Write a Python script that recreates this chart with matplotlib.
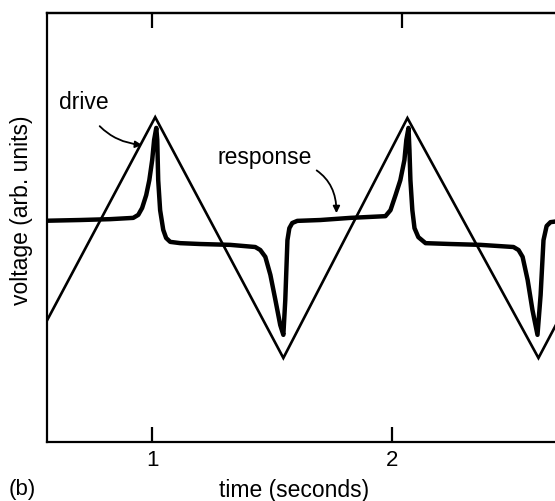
import matplotlib
matplotlib.use("Agg")
import matplotlib.pyplot as plt

plt.rcParams['font.family'] = ['Liberation Sans', 'DejaVu Sans']

# drive: triangular wave (vertices), time in s, voltage in arb. units
drive_t = [0.479, 1.0125, 1.546, 2.0625, 2.608, 3.1375]
drive_v = [1.96, 7.58, 1.96, 7.56, 1.96, 7.58]

# response: switching signal
resp_t = [0.533, 0.700, 0.825, 0.921, 0.942, 0.958, 0.975, 0.988, 1.000, 1.008,
          1.017, 1.021, 1.025, 1.033, 1.046, 1.058, 1.075, 1.117, 1.200, 1.325,
          1.429, 1.450, 1.471, 1.492, 1.513, 1.533, 1.546, 1.554, 1.563, 1.571,
          1.583, 1.604, 1.700, 1.825, 1.971, 1.992, 2.013, 2.033, 2.050, 2.058,
          2.067, 2.071, 2.075, 2.083, 2.092, 2.108, 2.138, 2.242, 2.367, 2.504,
          2.525, 2.542, 2.563, 2.583, 2.604, 2.617, 2.629, 2.642, 2.658, 2.700]
resp_v = [5.16, 5.18, 5.20, 5.23, 5.30, 5.46, 5.76, 6.11, 6.58, 7.05,
          7.33, 7.05, 6.11, 5.41, 4.95, 4.76, 4.67, 4.64, 4.62, 4.60,
          4.55, 4.48, 4.32, 3.90, 3.31, 2.73, 2.50, 3.31, 4.71, 4.99,
          5.11, 5.16, 5.18, 5.23, 5.27, 5.41, 5.76, 6.11, 6.58, 7.05,
          7.33, 6.81, 6.11, 5.41, 4.99, 4.78, 4.64, 4.62, 4.60, 4.55,
          4.48, 4.32, 3.78, 3.08, 2.50, 3.43, 4.71, 5.04, 5.13, 5.16]

bottom_ticks = [1, 2]
bottom_labels = ["1", "2"]
top_ticks = [1.0, 2.04]

fig = plt.figure(figsize=(5.55, 5.01), dpi=100)
ax = fig.add_axes([0.0838, 0.1178, 0.9162 + 0.01, 0.8553])

ax.plot(drive_t, drive_v, color='black', linewidth=1.9, solid_joinstyle='miter')
ax.plot(resp_t, resp_v, color='black', linewidth=3.2, solid_joinstyle='round')

ax.set_xlim(0.560, 2.70)
ax.set_ylim(0, 10)

for s in ['left', 'bottom', 'top']:
    ax.spines[s].set_linewidth(1.6)
ax.spines['right'].set_visible(False)

ax.set_xticks(bottom_ticks)
ax.set_xticklabels(bottom_labels)
ax.set_yticks([])
ax.tick_params(axis='x', direction='in', length=11, width=1.6, labelsize=16, pad=6)

# top ticks
top = ax.secondary_xaxis('top')
top.set_xticks(top_ticks)
top.set_xticklabels([])
top.tick_params(direction='in', length=11, width=1.6)
top.spines['top'].set_linewidth(1.6)

# annotations
ax.annotate("drive", xy=(0.958, 6.93), xytext=(0.717, 7.93),
            fontsize=16.5, ha='center', va='center',
            arrowprops=dict(arrowstyle='-|>', color='black', lw=1.3,
                            mutation_scale=10, shrinkA=9, shrinkB=0,
                            connectionstyle='arc3,rad=0.3'))
ax.annotate("response", xy=(1.767, 5.34), xytext=(1.467, 6.63),
            fontsize=16.5, ha='center', va='center',
            arrowprops=dict(arrowstyle='-|>', color='black', lw=1.3,
                            mutation_scale=10, shrinkA=2, shrinkB=0,
                            connectionstyle='angle3,angleA=0,angleB=90'))

fig.text(22 / 555, 1 - 210 / 501, "voltage (arb. units)", rotation=90,
         ha='center', va='center', fontsize=16.5)
fig.text(294 / 555, 1 - 490 / 501, "time (seconds)", ha='center', va='center',
         fontsize=16.5)
fig.text(22 / 555, 1 - 490 / 501, "(b)", ha='center', va='center', fontsize=16)

fig.savefig("out.png", dpi=100)
